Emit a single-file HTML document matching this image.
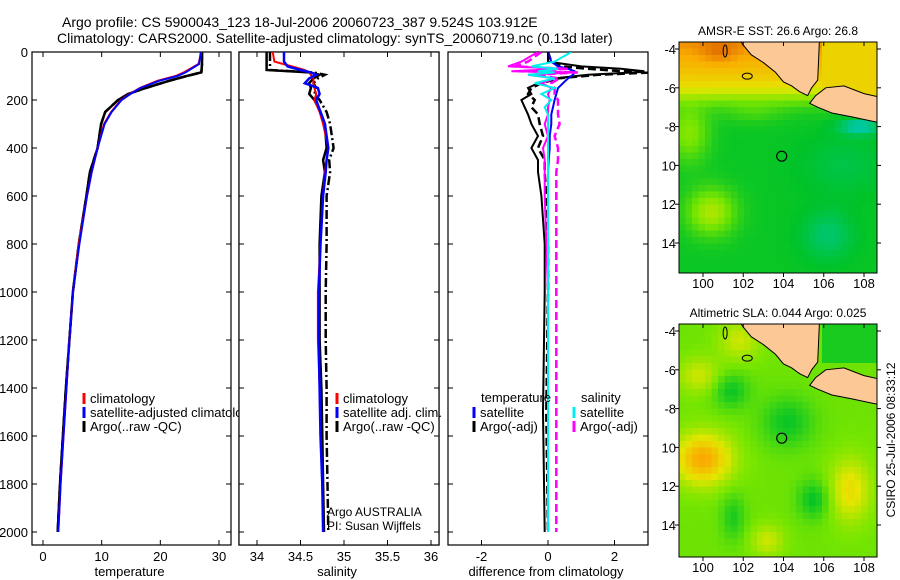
<!DOCTYPE html>
<html><head><meta charset="utf-8"><style>
html,body{margin:0;padding:0;background:#fff;}
svg{display:block;font-family:"Liberation Sans",sans-serif;}
</style></head><body>
<svg id="fig" width="900" height="580" viewBox="0 0 900 580">
<text x="62" y="27" font-size="14">Argo profile: CS 5900043_123 18-Jul-2006 20060723_387 9.524S 103.912E</text>
<text x="57" y="43" font-size="14">Climatology: CARS2000. Satellite-adjusted climatology: synTS_20060719.nc (0.13d later)</text>
<g id="g"></g>
<text transform="translate(895,440) rotate(-90)" text-anchor="middle" font-size="12">CSIRO 25-Jul-2006 08:33:12</text>
</svg>
<script>
// ---- data ----
const tDepth = [0,50,85,100,120,150,175,200,250,300,400,500,600,800,1000,1200,1400,1600,1800,2000];
const tClim  = [27,26.5,24,22.6,19.5,16.5,14.8,13.3,11.6,10.4,9.3,8.3,7.5,6.1,5.1,4.5,4.0,3.5,3.0,2.6];
const tSat   = [26.9,26.6,24.3,22.9,19.8,16.6,14.9,13.4,11.7,10.5,9.3,8.3,7.5,6.2,5.1,4.5,4.0,3.5,3.0,2.6];
const tArgo  = [27.1,27.1,27.0,24.5,21.5,17.5,14.5,12.8,10.6,9.9,9.3,8.0,7.4,6.1,5.1,4.5,3.9,3.4,2.9,2.5];
const sDepth = [0,40,60,75,85,95,110,130,150,175,200,250,300,400,450,500,600,800,1000,1200,1400,1600,1800,2000];
const sClim  = [34.18,34.2,34.4,34.55,34.6,34.62,34.65,34.65,34.66,34.68,34.66,34.72,34.76,34.82,34.8,34.78,34.76,34.73,34.7,34.7,34.72,34.73,34.75,34.76];
const sSat   = [34.31,34.31,34.35,34.5,34.62,34.68,34.6,34.55,34.7,34.72,34.68,34.73,34.78,34.82,34.8,34.79,34.76,34.73,34.71,34.71,34.72,34.73,34.75,34.76];
const sArgo  = [34.11,34.11,34.11,34.11,34.6,34.72,34.65,34.6,34.62,34.6,34.66,34.73,34.78,34.8,34.76,34.78,34.74,34.72,34.72,34.72,34.74,34.75,34.76,34.77];
const sRaw   = [34.15,34.15,34.15,34.15,34.65,34.78,34.7,34.65,34.68,34.66,34.72,34.8,34.84,34.88,34.83,34.84,34.8,34.8,34.79,34.79,34.8,34.8,34.81,34.82];
const dDepth = [0,40,60,70,80,85,95,110,130,150,175,200,230,260,300,350,400,450,500,600,800,1000,1500,2000];
const dTsat  = [0,0.1,0.3,0.6,0.8,0.8,0.75,0.6,0.45,0.3,0.25,0.2,0.15,0.1,0.1,0.05,0.05,0.02,0,0,0,0,0,0];
const dTargo = [0,0,1.0,2.2,2.9,2.6,1.2,0.2,-0.3,-0.6,-0.5,-0.8,-0.7,-0.6,-0.5,-0.3,-0.5,-0.3,-0.3,-0.2,-0.1,-0.1,-0.15,-0.1];
const dTraw  = [0,0.1,0.4,1.2,2.2,3.2,1.5,0.3,-0.2,-0.5,-0.6,-0.4,-0.5,-0.3,-0.25,-0.15,-0.3,-0.1,-0.1,-0.05,0,0,-0.05,0];
const dSsat  = [0.7,0.2,-0.5,0.3,-0.3,0.2,-0.6,0.2,-0.4,0.2,-0.2,0.1,-0.1,0,0,0,0,0,0,0,0,0,0,0];
const dSargo = [-0.3,-0.8,-1.2,0.5,-1.1,0.8,-0.6,0.2,-0.2,0.1,0,0.05,0,0,-0.1,0,-0.15,-0.1,-0.1,-0.1,-0.05,0,0,0];
const dSraw  = [-0.2,-0.6,-1.0,0.6,-0.9,0.9,-0.4,0.35,0.1,0.2,0.2,0.3,0.3,0.3,0.35,0.2,0.3,0.3,0.25,0.25,0.25,0.25,0.25,0.25];
const depthTicks = [0,200,400,600,800,1000,1200,1400,1600,1800,2000];
const tTicks = [0,10,20,30];
const sTicks = [34,34.5,35,35.5,36];
const sTickLbl = ["34","34.5","35","35.5","36"];
const dTicks = [-2,0,2];
const lonTicks = [100,102,104,106,108];
const latTicks = [-4,-6,-8,-10,-12,-14];
const latLbl = ["-4","-6","-8","10","12","14"];
const argoLon = 103.912, argoLat = -9.524;

const NS="http://www.w3.org/2000/svg", G=document.getElementById('g');
function el(t,a,p){const e=document.createElementNS(NS,t);for(const k in a)e.setAttribute(k,a[k]);(p||G).appendChild(e);return e;}
const Y0=52, Y1=532, yD=d=>Y0+(Y1-Y0)*d/2000;
const panels=[
 {x0:32,x1:231,vx:v=>43+(219-43)*v/30,name:'temperature'},
 {x0:239,x1:439,vx:v=>257+(431-257)*(v-34)/2,name:'salinity'},
 {x0:448,x1:648,vx:v=>548+(614-481)/4*v,name:'difference'}];
const PB=545;
function line(p,dep,val,col,dash,w,name){
  const pts=dep.map((d,i)=>p.vx(val[i]).toFixed(1)+','+yD(d).toFixed(1)).join(' ');
  const e=el('polyline',{points:pts,fill:'none',stroke:col,'stroke-width':w||2,'stroke-dasharray':dash||'none','clip-path':'url(#c'+panels.indexOf(p)+')'});
  
  
}
const defs=el('defs',{});
panels.forEach((p,i)=>{
  const cp=el('clipPath',{id:'c'+i},defs);el('rect',{x:p.x0,y:Y0,width:p.x1-p.x0,height:PB-Y0},cp);
  const bg=el('rect',{x:p.x0,y:Y0,width:p.x1-p.x0,height:PB-Y0,fill:'#fff',stroke:'#000','stroke-width':1.2});
  
  
  depthTicks.forEach(d=>{const y=yD(d);
    el('line',{x1:p.x0,x2:p.x0+5,y1:y,y2:y,stroke:'#000'});el('line',{x1:p.x1,x2:p.x1-5,y1:y,y2:y,stroke:'#000'});
    if(i==0){const t=el('text',{x:28,y:y+5,'text-anchor':'end','font-size':13});t.textContent=d;
      
      }
  });
});
function xticks(p,vals,lbls,title){
  vals.forEach((v,k)=>{const x=p.vx(v);
    el('line',{x1:x,x2:x,y1:Y0,y2:Y0+5,stroke:'#000'});el('line',{x1:x,x2:x,y1:PB,y2:PB-5,stroke:'#000'});
    const t=el('text',{x:x,y:561,'text-anchor':'middle','font-size':13});t.textContent=lbls[k];
    
    });
  const t=el('text',{x:(p.x0+p.x1)/2-2,y:576,'text-anchor':'middle','font-size':13});t.textContent=title;
  
  
}
const [P1,P2,P3]=panels;
line(P1,tDepth,tArgo,'#000','8,4',2.5,'temp-argo-raw');
line(P1,tDepth,tArgo,'#000','',2.5,'temp-argo');
line(P1,tDepth,tClim,'#f00','',2,'temp-climatology');
line(P1,tDepth,tSat,'#00f','',2,'temp-satellite-adjusted');
xticks(P1,tTicks,tTicks,'temperature');
function legend(x,y,items){items.forEach((it,k)=>{
  el('line',{x1:x,x2:x,y1:y+k*14-11,y2:y+k*14,stroke:it[1],'stroke-width':3});
  if(it[0]){const t=el('text',{x:x+6,y:y+k*14-1,'font-size':13});t.textContent=it[0];
  
  }});}
legend(84,404,[['climatology','#f00'],['satellite-adjusted climatology','#00f'],['Argo(..raw -QC)','#000']]);
const bg2=el('rect',{x:P2.x0,y:Y0,width:P2.x1-P2.x0,height:PB-Y0,fill:'#fff',stroke:'#000','stroke-width':1.2});


depthTicks.forEach(d=>{const y=yD(d);el('line',{x1:P2.x0,x2:P2.x0+5,y1:y,y2:y,stroke:'#000'});el('line',{x1:P2.x1,x2:P2.x1-5,y1:y,y2:y,stroke:'#000'});});
line(P2,sDepth,sRaw,'#000','9,3,2,3',2.5,'sal-argo-raw');
line(P2,sDepth,sArgo,'#000','',2.5,'sal-argo');
line(P2,sDepth,sClim,'#f00','',2,'sal-climatology');
line(P2,sDepth,sSat,'#00f','',2.5,'sal-satellite-adjusted');
xticks(P2,sTicks,sTickLbl,'salinity');
legend(337,404,[['climatology','#f00'],['satellite adj. clim.','#00f'],['Argo(..raw -QC)','#000']]);
[['Argo AUSTRALIA',516],['PI: Susan Wijffels',530]].forEach(a=>{const t=el('text',{x:327,y:a[1],'font-size':12});t.textContent=a[0];
  
  });
line(P3,dDepth,dTraw,'#000','8,4',2.5,'diff-temp-argo-raw');
line(P3,dDepth,dTargo,'#000','',2,'diff-temp-argo');
line(P3,dDepth,dTsat,'#00f','',2,'diff-temp-satellite');
line(P3,dDepth,dSraw,'#f0f','8,4',2.5,'diff-sal-argo-raw');
line(P3,dDepth,dSargo,'#f0f','',2,'diff-sal-argo');
line(P3,dDepth,dSsat,'#0ee','',2,'diff-sal-satellite');
xticks(P3,dTicks,dTicks,'difference from climatology');
[['temperature',481],['salinity',581]].forEach(a=>{const t=el('text',{x:a[1],y:402,'font-size':13});t.textContent=a[0];
  
  });
legend(474,418,[['satellite','#00f'],['Argo(-adj)','#000']]);
legend(574,418,[['satellite','#0ee'],['Argo(-adj)','#f0f']]);

// ---- maps ----
const stops=[[0,0,170],[0,200,255],[0,200,150],[0,195,40],[120,230,0],[230,230,0],[250,170,0],[200,50,0]];
function cmap(v){v=Math.max(0,Math.min(1,v))*7;const i=Math.min(6,Math.floor(v)),f=v-i,a=stops[i],b=stops[i+1];
  return 'rgb('+a.map((c,k)=>Math.round(c+(b[k]-c)*f)).join(',')+')';}
function Gf(lo,la,cx,cy,sx,sy){return Math.exp(-((lo-cx)**2/(sx*sx)+(la-cy)**2/(sy*sy)));}
function sst(lo,la){const s=1/(1+Math.exp((-6.6-la)*-3));
  const north=0.87-(-4-la)*0.055+0.06*Gf(lo,la,100.8,-4.2,1,0.6);
  let south=0.44+0.2*Gf(lo,la,100.4,-12.4,1.2,1.2)+0.15*Gf(lo,la,99.3,-8.3,1,1.5)+0.06*Gf(lo,la,102.5,-7.2,1.5,0.6)-0.1*Gf(lo,la,106.2,-13.6,1.2,1.2)-0.05*Gf(lo,la,107,-10,2,1.5)-0.2*Gf(lo,la,107.8,-8,1,0.4);
  if(lo>105.8&&la>-6.8)return 0.76;
  return north*(1-s)+south*s;}
function sla(lo,la){if(lo>105.8&&la>-5.5)return 0.46;
  return 0.56+0.3*Gf(lo,la,100,-10.6,1.4,1.3)+0.18*Gf(lo,la,107.3,-12.2,1,1.6)+0.12*Gf(lo,la,99.8,-6.3,1,0.9)-0.12*Gf(lo,la,101.4,-7.1,0.9,0.9)-0.13*Gf(lo,la,105.5,-12.7,0.8,1)-0.12*Gf(lo,la,104.2,-8.7,1.3,1.3)+0.12*Gf(lo,la,103.2,-14.8,0.8,0.8)+0.12*Gf(lo,la,101.8,-4.5,1,1)-0.1*Gf(lo,la,101.5,-13.6,0.6,1.2);}
const sumatra=[[101.6,-3.2],[102.0,-3.8],[102.4,-4.3],[103.0,-4.7],[103.6,-5.2],[104.0,-5.7],[104.4,-5.9],[104.8,-6.2],[105.2,-6.4],[105.4,-6.0],[105.7,-5.6],[105.8,-3.2]];
const java=[[105.3,-6.8],[105.6,-6.4],[106.1,-6.0],[107.0,-5.9],[108.0,-6.3],[109.3,-6.6],[109.3,-7.9],[108.3,-7.7],[107.4,-7.5],[106.4,-7.3],[105.7,-7.0]];
function drawMap(top,bot,fn,title,name){
  const x0=679,x1=877,lx=lo=>703+(lo-100)*(864-703)/8;
  const ppd=19.4, laY=la=>top+7+(-4-la)*ppd;
  const grp=el('g',{});
  const cid='m'+top;const cp=el('clipPath',{id:cid},defs);el('rect',{x:x0,y:top,width:x1-x0,height:bot-top},cp);
  const cg=el('g',{'clip-path':'url(#'+cid+')'},grp);
  const step=6.5;
  for(let x=x0;x<x1;x+=step)for(let y=top;y<bot;y+=step){
    const lo=100+(x+step/2-703)*8/161, la=-4-(y+step/2-top-7)/ppd;
    el('rect',{x:x,y:y,width:step+0.5,height:step+0.5,fill:cmap(fn(lo,la))},cg);}
  [sumatra,java].forEach(poly=>{el('polygon',{points:poly.map(p=>lx(p[0])+','+laY(p[1])).join(' '),fill:'#fbc896',stroke:'#000','stroke-width':1},cg);});
  el('ellipse',{cx:lx(102.2),cy:laY(-5.4),rx:5,ry:3,fill:'none',stroke:'#000'},cg);
  el('ellipse',{cx:lx(101.1),cy:laY(-4.1),rx:2,ry:6,fill:'none',stroke:'#000'},cg);
  el('rect',{x:x0,y:top,width:x1-x0,height:bot-top,fill:'none',stroke:'#000'},grp);
  const c=el('circle',{cx:lx(argoLon),cy:laY(argoLat),r:5,fill:'none',stroke:'#000','stroke-width':1.2},grp);
  
  lonTicks.forEach(lo=>{const x=lx(lo);el('line',{x1:x,x2:x,y1:bot,y2:bot+4,stroke:'#000'},grp);el('line',{x1:x,x2:x,y1:top,y2:top+4,stroke:'#000'},grp);
    const t=el('text',{x:x,y:bot+15,'text-anchor':'middle','font-size':13},grp);t.textContent=lo;
    });
  latTicks.forEach((la,k)=>{const y=laY(la);el('line',{x1:x0-4,x2:x0,y1:y,y2:y,stroke:'#000'},grp);el('line',{x1:x1,x2:x1+4,y1:y,y2:y,stroke:'#000'},grp);
    const t=el('text',{x:x0-3,y:y+5,'text-anchor':'end','font-size':13},grp);t.textContent=latLbl[k];
    });
  const t=el('text',{x:778,y:top-7,'text-anchor':'middle','font-size':12},grp);t.textContent=title;
  
}
drawMap(42,273,sst,'AMSR-E SST: 26.6 Argo: 26.8','sst-map');
drawMap(324,557,sla,'Altimetric SLA: 0.044 Argo: 0.025','sla-map');
</script>
</body></html>
